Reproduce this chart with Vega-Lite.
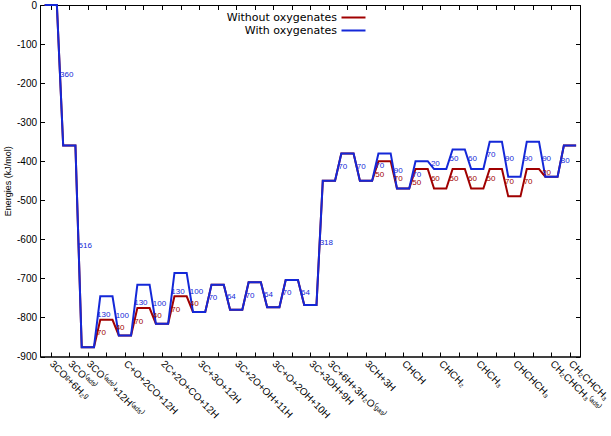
{
  "$schema": "https://vega.github.io/schema/vega-lite/v6.json",
  "width": 540,
  "height": 351.5,
  "autosize": {"type": "none"},
  "padding": {"left": 40, "top": 5, "right": 31, "bottom": 79.5},
  "background": "white",
  "config": {
    "view": {"stroke": "black", "strokeWidth": 1},
    "axis": {"grid": false, "domainColor": "black", "tickColor": "black", "labelColor": "black", "titleColor": "black", "labelFont": "Liberation Sans", "titleFont": "Liberation Sans"}
  },
  "datasets": {
    "lines": [
      {"s": "Without oxygenates", "x": -0.33, "E": 0}, {"s": "Without oxygenates", "x": 0.33, "E": 0},
      {"s": "Without oxygenates", "x": 0.67, "E": -360}, {"s": "Without oxygenates", "x": 1.33, "E": -360},
      {"s": "Without oxygenates", "x": 1.67, "E": -876}, {"s": "Without oxygenates", "x": 2.33, "E": -876},
      {"s": "Without oxygenates", "x": 2.67, "E": -806}, {"s": "Without oxygenates", "x": 3.33, "E": -806},
      {"s": "Without oxygenates", "x": 3.67, "E": -846}, {"s": "Without oxygenates", "x": 4.33, "E": -846},
      {"s": "Without oxygenates", "x": 4.67, "E": -776}, {"s": "Without oxygenates", "x": 5.33, "E": -776},
      {"s": "Without oxygenates", "x": 5.67, "E": -816}, {"s": "Without oxygenates", "x": 6.33, "E": -816},
      {"s": "Without oxygenates", "x": 6.67, "E": -746}, {"s": "Without oxygenates", "x": 7.33, "E": -746},
      {"s": "Without oxygenates", "x": 7.67, "E": -786}, {"s": "Without oxygenates", "x": 8.33, "E": -786},
      {"s": "Without oxygenates", "x": 8.67, "E": -716}, {"s": "Without oxygenates", "x": 9.33, "E": -716},
      {"s": "Without oxygenates", "x": 9.67, "E": -780}, {"s": "Without oxygenates", "x": 10.33, "E": -780},
      {"s": "Without oxygenates", "x": 10.67, "E": -710}, {"s": "Without oxygenates", "x": 11.33, "E": -710},
      {"s": "Without oxygenates", "x": 11.67, "E": -774}, {"s": "Without oxygenates", "x": 12.33, "E": -774},
      {"s": "Without oxygenates", "x": 12.67, "E": -704}, {"s": "Without oxygenates", "x": 13.33, "E": -704},
      {"s": "Without oxygenates", "x": 13.67, "E": -768}, {"s": "Without oxygenates", "x": 14.33, "E": -768},
      {"s": "Without oxygenates", "x": 14.67, "E": -450}, {"s": "Without oxygenates", "x": 15.33, "E": -450},
      {"s": "Without oxygenates", "x": 15.67, "E": -380}, {"s": "Without oxygenates", "x": 16.33, "E": -380},
      {"s": "Without oxygenates", "x": 16.67, "E": -450}, {"s": "Without oxygenates", "x": 17.33, "E": -450},
      {"s": "Without oxygenates", "x": 17.67, "E": -400}, {"s": "Without oxygenates", "x": 18.33, "E": -400},
      {"s": "Without oxygenates", "x": 18.67, "E": -470}, {"s": "Without oxygenates", "x": 19.33, "E": -470},
      {"s": "Without oxygenates", "x": 19.67, "E": -420}, {"s": "Without oxygenates", "x": 20.33, "E": -420},
      {"s": "Without oxygenates", "x": 20.67, "E": -470}, {"s": "Without oxygenates", "x": 21.33, "E": -470},
      {"s": "Without oxygenates", "x": 21.67, "E": -420}, {"s": "Without oxygenates", "x": 22.33, "E": -420},
      {"s": "Without oxygenates", "x": 22.67, "E": -470}, {"s": "Without oxygenates", "x": 23.33, "E": -470},
      {"s": "Without oxygenates", "x": 23.67, "E": -420}, {"s": "Without oxygenates", "x": 24.33, "E": -420},
      {"s": "Without oxygenates", "x": 24.67, "E": -490}, {"s": "Without oxygenates", "x": 25.33, "E": -490},
      {"s": "Without oxygenates", "x": 25.67, "E": -420}, {"s": "Without oxygenates", "x": 26.33, "E": -420},
      {"s": "Without oxygenates", "x": 26.67, "E": -440}, {"s": "Without oxygenates", "x": 27.33, "E": -440},
      {"s": "Without oxygenates", "x": 27.67, "E": -360}, {"s": "Without oxygenates", "x": 28.33, "E": -360},
      {"s": "With oxygenates", "x": -0.33, "E": 0}, {"s": "With oxygenates", "x": 0.33, "E": 0},
      {"s": "With oxygenates", "x": 0.67, "E": -360}, {"s": "With oxygenates", "x": 1.33, "E": -360},
      {"s": "With oxygenates", "x": 1.67, "E": -876}, {"s": "With oxygenates", "x": 2.33, "E": -876},
      {"s": "With oxygenates", "x": 2.67, "E": -746}, {"s": "With oxygenates", "x": 3.33, "E": -746},
      {"s": "With oxygenates", "x": 3.67, "E": -846}, {"s": "With oxygenates", "x": 4.33, "E": -846},
      {"s": "With oxygenates", "x": 4.67, "E": -716}, {"s": "With oxygenates", "x": 5.33, "E": -716},
      {"s": "With oxygenates", "x": 5.67, "E": -816}, {"s": "With oxygenates", "x": 6.33, "E": -816},
      {"s": "With oxygenates", "x": 6.67, "E": -686}, {"s": "With oxygenates", "x": 7.33, "E": -686},
      {"s": "With oxygenates", "x": 7.67, "E": -786}, {"s": "With oxygenates", "x": 8.33, "E": -786},
      {"s": "With oxygenates", "x": 8.67, "E": -716}, {"s": "With oxygenates", "x": 9.33, "E": -716},
      {"s": "With oxygenates", "x": 9.67, "E": -780}, {"s": "With oxygenates", "x": 10.33, "E": -780},
      {"s": "With oxygenates", "x": 10.67, "E": -710}, {"s": "With oxygenates", "x": 11.33, "E": -710},
      {"s": "With oxygenates", "x": 11.67, "E": -774}, {"s": "With oxygenates", "x": 12.33, "E": -774},
      {"s": "With oxygenates", "x": 12.67, "E": -704}, {"s": "With oxygenates", "x": 13.33, "E": -704},
      {"s": "With oxygenates", "x": 13.67, "E": -768}, {"s": "With oxygenates", "x": 14.33, "E": -768},
      {"s": "With oxygenates", "x": 14.67, "E": -450}, {"s": "With oxygenates", "x": 15.33, "E": -450},
      {"s": "With oxygenates", "x": 15.67, "E": -380}, {"s": "With oxygenates", "x": 16.33, "E": -380},
      {"s": "With oxygenates", "x": 16.67, "E": -450}, {"s": "With oxygenates", "x": 17.33, "E": -450},
      {"s": "With oxygenates", "x": 17.67, "E": -380}, {"s": "With oxygenates", "x": 18.33, "E": -380},
      {"s": "With oxygenates", "x": 18.67, "E": -470}, {"s": "With oxygenates", "x": 19.33, "E": -470},
      {"s": "With oxygenates", "x": 19.67, "E": -400}, {"s": "With oxygenates", "x": 20.33, "E": -400},
      {"s": "With oxygenates", "x": 20.67, "E": -420}, {"s": "With oxygenates", "x": 21.33, "E": -420},
      {"s": "With oxygenates", "x": 21.67, "E": -370}, {"s": "With oxygenates", "x": 22.33, "E": -370},
      {"s": "With oxygenates", "x": 22.67, "E": -420}, {"s": "With oxygenates", "x": 23.33, "E": -420},
      {"s": "With oxygenates", "x": 23.67, "E": -350}, {"s": "With oxygenates", "x": 24.33, "E": -350},
      {"s": "With oxygenates", "x": 24.67, "E": -440}, {"s": "With oxygenates", "x": 25.33, "E": -440},
      {"s": "With oxygenates", "x": 25.67, "E": -350}, {"s": "With oxygenates", "x": 26.33, "E": -350},
      {"s": "With oxygenates", "x": 26.67, "E": -440}, {"s": "With oxygenates", "x": 27.33, "E": -440},
      {"s": "With oxygenates", "x": 27.67, "E": -360}, {"s": "With oxygenates", "x": 28.33, "E": -360}
    ],
    "labels": [
      {"s": "Without oxygenates", "x": 2.5, "E": -841, "t": "70"},
      {"s": "Without oxygenates", "x": 3.5, "E": -826, "t": "40"},
      {"s": "Without oxygenates", "x": 4.5, "E": -811, "t": "70"},
      {"s": "Without oxygenates", "x": 5.5, "E": -796, "t": "40"},
      {"s": "Without oxygenates", "x": 6.5, "E": -781, "t": "70"},
      {"s": "Without oxygenates", "x": 7.5, "E": -766, "t": "40"},
      {"s": "Without oxygenates", "x": 17.5, "E": -434, "t": "50"},
      {"s": "Without oxygenates", "x": 18.5, "E": -445, "t": "70"},
      {"s": "Without oxygenates", "x": 19.5, "E": -455, "t": "50"},
      {"s": "Without oxygenates", "x": 20.5, "E": -445, "t": "60"},
      {"s": "Without oxygenates", "x": 21.5, "E": -445, "t": "50"},
      {"s": "Without oxygenates", "x": 22.5, "E": -445, "t": "60"},
      {"s": "Without oxygenates", "x": 23.5, "E": -445, "t": "50"},
      {"s": "Without oxygenates", "x": 24.5, "E": -454, "t": "70"},
      {"s": "Without oxygenates", "x": 25.5, "E": -454, "t": "70"},
      {"s": "Without oxygenates", "x": 26.5, "E": -431, "t": "20"},
      {"s": "With oxygenates", "x": 0.5, "E": -180, "t": "360"},
      {"s": "With oxygenates", "x": 1.5, "E": -618, "t": "516"},
      {"s": "With oxygenates", "x": 2.5, "E": -795, "t": "130"},
      {"s": "With oxygenates", "x": 3.5, "E": -796, "t": "100"},
      {"s": "With oxygenates", "x": 4.5, "E": -764, "t": "130"},
      {"s": "With oxygenates", "x": 5.5, "E": -766, "t": "100"},
      {"s": "With oxygenates", "x": 6.5, "E": -735, "t": "130"},
      {"s": "With oxygenates", "x": 7.5, "E": -735, "t": "100"},
      {"s": "With oxygenates", "x": 8.5, "E": -751, "t": "70"},
      {"s": "With oxygenates", "x": 9.5, "E": -747, "t": "64"},
      {"s": "With oxygenates", "x": 10.5, "E": -744, "t": "70"},
      {"s": "With oxygenates", "x": 11.5, "E": -742, "t": "64"},
      {"s": "With oxygenates", "x": 12.5, "E": -738, "t": "70"},
      {"s": "With oxygenates", "x": 13.5, "E": -737, "t": "64"},
      {"s": "With oxygenates", "x": 14.5, "E": -609, "t": "318"},
      {"s": "With oxygenates", "x": 15.5, "E": -415, "t": "70"},
      {"s": "With oxygenates", "x": 16.5, "E": -415, "t": "70"},
      {"s": "With oxygenates", "x": 17.5, "E": -413, "t": "70"},
      {"s": "With oxygenates", "x": 18.5, "E": -424, "t": "90"},
      {"s": "With oxygenates", "x": 19.5, "E": -434, "t": "70"},
      {"s": "With oxygenates", "x": 20.5, "E": -408, "t": "20"},
      {"s": "With oxygenates", "x": 21.5, "E": -394, "t": "50"},
      {"s": "With oxygenates", "x": 22.5, "E": -394, "t": "60"},
      {"s": "With oxygenates", "x": 23.5, "E": -384, "t": "70"},
      {"s": "With oxygenates", "x": 24.5, "E": -394, "t": "90"},
      {"s": "With oxygenates", "x": 25.5, "E": -394, "t": "90"},
      {"s": "With oxygenates", "x": 26.5, "E": -394, "t": "90"},
      {"s": "With oxygenates", "x": 27.5, "E": -399, "t": "80"}
    ]
  },
  "layer": [
    {
      "data": {"name": "lines"},
      "transform": [{"filter": "datum.s == 'Without oxygenates'"}],
      "mark": {"type": "line", "strokeWidth": 2},
      "encoding": {
        "x": {
          "field": "x", "type": "quantitative",
          "scale": {"domain": [-0.58, 28.54], "nice": false, "zero": false},
          "axis": {
            "orient": "bottom", "title": null,
            "values": [0,1,2,3,4,5,6,7,8,9,10,11,12,13,14,15,16,17,18,19,20,21,22,23,24,25,26,27,28],
            "tickSize": -4.5, "labelAngle": 45, "labelAlign": "left", "labelBaseline": "middle",
            "labelPadding": 10, "labelFontSize": 10, "labelOverlap": false, "labelBound": false, "labelFlush": false,
            "labelExpr": "['3COᵍ+6H₂ᵍ','3CO⁽ᵃᵈˢ⁾','3CO⁽ᵃᵈˢ⁾+12H⁽ᵃᵈˢ⁾','','C+O+2CO+12H','','2C+2O+CO+12H','','3C+3O+12H','','3C+2O+OH+11H','','3C+O+2OH+10H','','3C+3OH+9H','3C+6H+3H₂O⁽ᵍᵃˢ⁾','','3CH+3H','','CHCH','','CHCH₂','','CHCH₃','','CHCHCH₃','','CH₂CHCH₃⁽ᵃᵈˢ⁾','CH₂CHCH₃'][datum.value]"
          }
        },
        "y": {
          "field": "E", "type": "quantitative",
          "scale": {"domain": [-900, 0], "nice": false, "zero": false},
          "axis": {
            "orient": "left", "values": [-900,-800,-700,-600,-500,-400,-300,-200,-100,0],
            "tickSize": -4.5, "labelPadding": 8, "labelFontSize": 10, "labelFlush": false, "labelBound": false,
            "labelExpr": "'' + datum.value",
            "title": "Energies (kJ/mol)", "titleFontSize": 9, "titleFontWeight": "normal",
            "titleAngle": 270, "titleX": -33, "titleY": 175.75, "titleAlign": "center", "titleBaseline": "middle"
          }
        },
        "color": {
          "field": "s", "type": "nominal",
          "scale": {"domain": ["Without oxygenates", "With oxygenates"], "range": ["#a00000", "#1428d8"]},
          "legend": {
            "orient": "none", "legendX": 308, "legendY": 7, "title": null,
            "symbolType": "M-3,0H3", "symbolSize": 64, "symbolStrokeWidth": 2,
            "labelAlign": "right", "labelOffset": -22, "labelFont": "DejaVu Sans", "labelFontSize": 11,
            "labelColor": "black", "rowPadding": 1, "padding": 0, "offset": 0, "labelLimit": 300
          }
        }
      }
    },
    {
      "data": {"name": "lines"},
      "transform": [{"filter": "datum.s == 'With oxygenates'"}],
      "mark": {"type": "line", "strokeWidth": 2},
      "encoding": {
        "x": {"field": "x", "type": "quantitative", "axis": null},
        "y": {"field": "E", "type": "quantitative", "axis": null},
        "color": {"field": "s", "type": "nominal"}
      }
    },
    {
      "data": {"name": "labels"},
      "mark": {"type": "text", "align": "left", "baseline": "middle", "font": "Liberation Sans", "fontSize": 8},
      "encoding": {
        "x": {"field": "x", "type": "quantitative",
          "axis": {"orient": "top", "title": null, "labels": false, "tickSize": -4.5,
            "values": [0,1,2,3,4,5,6,7,8,9,10,11,12,13,14,15,16,17,18,19,20,21,22,23,24,25,26,27,28]}},
        "y": {"field": "E", "type": "quantitative",
          "axis": {"orient": "right", "title": null, "labels": false, "tickSize": -4.5,
            "values": [-900,-800,-700,-600,-500,-400,-300,-200,-100,0]}},
        "text": {"field": "t"},
        "color": {"field": "s", "type": "nominal"}
      }
    }
  ],
  "resolve": {"axis": {"x": "independent", "y": "independent"}}
}
